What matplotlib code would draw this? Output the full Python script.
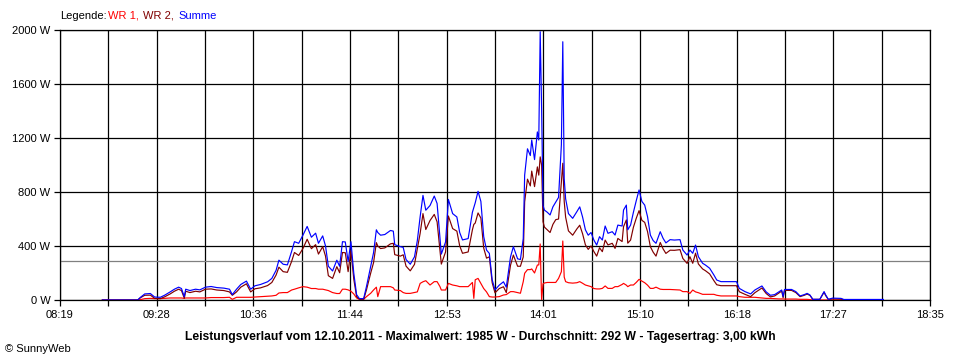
import matplotlib.pyplot as plt
import numpy as np

# Messzeitpunkte (HH:MM) und Leistung in W
zeit = ['08:49', '09:14', '09:16', '09:19', '09:23', '09:26', '09:30', '09:33', '09:37', '09:40',
        '09:43', '09:45', '09:47', '09:48', '09:51', '09:55', '09:58', '10:02', '10:06', '10:10',
        '10:15', '10:19', '10:21', '10:24', '10:27', '10:31', '10:34', '10:37', '10:41', '10:46',
        '10:49', '10:52', '10:54', '10:57', '11:00', '11:03', '11:05', '11:08', '11:11', '11:14',
        '11:17', '11:20', '11:22', '11:25', '11:27', '11:29', '11:32', '11:35', '11:37', '11:39',
        '11:41', '11:43', '11:45', '11:47', '11:49', '11:51', '11:54', '11:56', '11:59', '12:01',
        '12:03', '12:04', '12:06', '12:09', '12:13', '12:15', '12:16', '12:20', '12:22', '12:24',
        '12:27', '12:30', '12:32', '12:34', '12:36', '12:38', '12:41', '12:44', '12:46', '12:48',
        '12:49', '12:52', '12:54', '12:57', '13:00', '13:02', '13:04', '13:08', '13:11', '13:12',
        '13:13', '13:15', '13:17', '13:19', '13:21', '13:23', '13:25', '13:27', '13:30', '13:33',
        '13:35', '13:38', '13:40', '13:43', '13:45', '13:47', '13:48', '13:50', '13:52', '13:53',
        '13:55', '13:57', '13:58', '13:59', '14:00', '14:01', '14:02', '14:04', '14:06', '14:08',
        '14:10', '14:12', '14:14', '14:15', '14:16', '14:17', '14:19', '14:22', '14:25', '14:27',
        '14:29', '14:31', '14:33', '14:35', '14:37', '14:39', '14:41', '14:43', '14:45', '14:47',
        '14:50', '14:52', '14:54', '14:57', '14:58', '15:00', '15:01', '15:03', '15:05', '15:07',
        '15:09', '15:11', '15:13', '15:15', '15:17', '15:19', '15:21', '15:24', '15:26', '15:28',
        '15:31', '15:34', '15:38', '15:40', '15:43', '15:45', '15:47', '15:49', '15:51', '15:54',
        '15:56', '15:59', '16:02', '16:04', '16:07', '16:18', '16:20', '16:24', '16:28', '16:31',
        '16:33', '16:36', '16:39', '16:42', '16:45', '16:48', '16:50', '16:51', '16:52', '16:57',
        '17:00', '17:03', '17:06', '17:08', '17:10', '17:12', '17:17', '17:20', '17:21', '17:23',
        '17:26', '17:32', '17:34', '18:02']

wr1 = [0, 0, 3, 10, 12, 10, 10, 12, 15, 15,
       15, 15, 12, 15, 15, 15, 15, 15, 18, 18,
       18, 20, 5, 20, 20, 20, 20, 22, 25, 28,
       30, 35, 52, 55, 55, 74, 80, 90, 99, 95,
       85, 85, 80, 80, 75, 70, 55, 48, 48, 80,
       80, 75, 65, 45, 15, 5, 5, 25, 50, 74,
       95, 25, 99, 99, 99, 90, 74, 70, 55, 49,
       49, 56, 60, 123, 135, 143, 111, 136, 136, 100,
       74, 74, 123, 111, 105, 99, 99, 99, 130, 12,
       150, 160, 123, 85, 60, 25, 22, 22, 25, 37,
       40, 62, 62, 55, 50, 136, 198, 225, 225, 230,
       200, 259, 260, 415, 0, 120, 126, 130, 130, 130,
       130, 160, 210, 437, 170, 136, 128, 125, 128, 136,
       124, 111, 105, 99, 85, 82, 82, 86, 104, 86,
       86, 99, 99, 115, 123, 110, 99, 111, 111, 130,
       153, 140, 128, 110, 86, 86, 95, 80, 78, 78,
       78, 76, 74, 62, 62, 49, 74, 60, 54, 42,
       42, 42, 42, 35, 30, 30, 25, 20, 20, 20,
       18, 15, 12, 12, 10, 8, 8, 8, 7, 7,
       7, 5, 5, 5, 3, 0, 0, 0, 0, 0,
       0, 0, 0, 0]

wr2 = [0, 0, 17, 35, 36, 12, 10, 23, 45, 65,
       80, 70, 13, 65, 55, 65, 60, 80, 82, 74,
       70, 60, 35, 60, 95, 120, 60, 83, 90, 107,
       130, 185, 243, 210, 205, 286, 352, 330, 381, 450,
       380, 410, 340, 395, 325, 180, 160, 247, 202, 352,
       350, 210, 367, 155, 25, 5, 5, 75, 200, 276,
       425, 400, 381, 386, 416, 420, 336, 325, 335, 251,
       216, 264, 380, 494, 640, 522, 589, 634, 579, 370,
       266, 356, 622, 529, 510, 401, 346, 356, 520, 560,
       570, 645, 607, 385, 310, 320, 128, 53, 85, 98,
       55, 258, 333, 250, 250, 319, 727, 895, 845, 955,
       840, 986, 925, 1060, 1000, 580, 540, 520, 500, 560,
       595, 600, 880, 1013, 730, 614, 512, 480, 527, 554,
       491, 409, 375, 401, 359, 325, 387, 358, 444, 408,
       420, 382, 456, 433, 543, 593, 421, 444, 539, 605,
       662, 590, 575, 507, 395, 354, 325, 426, 379, 345,
       369, 368, 373, 308, 271, 321, 272, 347, 267, 230,
       217, 193, 143, 113, 106, 106, 61, 42, 25, 54,
       68, 89, 48, 23, 30, 52, 66, 17, 71, 71,
       55, 25, 35, 44, 34, 5, 5, 58, 35, 4,
       8, 6, 2, 2]

summe = [0, 0, 20, 45, 48, 22, 20, 35, 60, 80,
         95, 85, 25, 80, 70, 80, 75, 95, 100, 92,
         88, 80, 40, 80, 115, 140, 80, 105, 115, 135,
         160, 220, 295, 265, 260, 360, 432, 420, 480, 545,
         465, 495, 420, 475, 400, 250, 215, 295, 250, 432,
         430, 285, 432, 200, 40, 10, 10, 100, 250, 350,
         520, 500, 480, 485, 515, 510, 410, 395, 390, 300,
         265, 320, 440, 617, 775, 665, 700, 770, 715, 470,
         340, 430, 745, 640, 615, 500, 445, 455, 650, 685,
         720, 805, 730, 470, 370, 345, 150, 75, 110, 135,
         95, 320, 395, 305, 300, 455, 925, 1120, 1070, 1185,
         1040, 1245, 1185, 1987, 1420, 700, 666, 650, 630, 690,
         725, 760, 1150, 1913, 900, 750, 640, 605, 655, 690,
         615, 520, 480, 500, 444, 407, 469, 444, 548, 494,
         506, 481, 555, 548, 666, 703, 520, 555, 650, 735,
         815, 730, 703, 617, 481, 440, 420, 506, 457, 423,
         447, 444, 447, 370, 333, 370, 346, 407, 321, 272,
         259, 235, 185, 148, 136, 136, 86, 62, 45, 74,
         86, 104, 60, 35, 40, 60, 74, 25, 78, 78,
         62, 30, 40, 49, 37, 5, 5, 62, 40, 5,
         14, 12, 4, 4]

y_ticks = [0, 400, 800, 1200, 1600, 2000]
x_labels = ['08:19', '09:28', '10:36', '11:44', '12:53', '14:01', '15:10', '16:18', '17:27', '18:35']

datum = '12.10.2011'
maximalwert = 1985
durchschnitt = 292
tagesertrag = '3,00'


def minuten(s):
    h, m = s.split(':')
    return int(h) * 60 + int(m)


t = [minuten(z) for z in zeit]
t_start = minuten(x_labels[0])
t_end = minuten(x_labels[-1])

plt.rcParams['font.family'] = ['Liberation Sans', 'DejaVu Sans']

fig = plt.figure(figsize=(9.6, 3.6), dpi=100)
ax = fig.add_axes([60 / 960, 60 / 360, 870 / 960, 270 / 360])

ax.axhline(durchschnitt, color='#808080', lw=0.9, zorder=1)
ax.plot(t, wr1, color='#ff0000', lw=0.85, zorder=3)
ax.plot(t, wr2, color='#800000', lw=0.85, zorder=3)
ax.plot(t, summe, color='#0000ff', lw=0.85, zorder=4)

ax.set_xlim(t_start, t_end)
ax.set_ylim(0, 2000)

# 18 Rasterfelder, jede zweite Linie beschriftet
x_pos = np.linspace(t_start, t_end, 2 * len(x_labels) - 1)
x_lab = []
for i in range(len(x_pos)):
    x_lab.append(x_labels[i // 2] if i % 2 == 0 else '')
ax.set_xticks(x_pos)
ax.set_xticklabels(x_lab)
ax.set_yticks(y_ticks)
ax.set_yticklabels(['{} W'.format(v) for v in y_ticks])

ax.grid(True, color='black', lw=0.9, zorder=0)
ax.set_axisbelow(True)
ax.tick_params(length=4, width=0.9, color='black', labelsize=8, pad=3)
for s in ax.spines.values():
    s.set_color('black')
    s.set_linewidth(0.9)

# Legende als Textzeile
fig.text(60 / 960, 1 - 16 / 360, 'Legende:', fontsize=8, va='center')
fig.text(108 / 960, 1 - 16 / 360, 'WR 1,', fontsize=8, va='center', color='#ff0000')
fig.text(143 / 960, 1 - 16 / 360, 'WR 2,', fontsize=8, va='center', color='#800000')
fig.text(178 / 960, 1 - 16 / 360, 'Summe', fontsize=8, va='center', color='#0000ff')

info = 'Leistungsverlauf vom {} - Maximalwert: {} W - Durchschnitt: {} W - Tagesertrag: {} kWh'.format(
    datum, maximalwert, durchschnitt, tagesertrag)
fig.text(0.5, 1 - 337 / 360, info, fontsize=8.7, fontweight='bold', ha='center', va='center')
fig.text(5 / 960, 1 - 349 / 360, '\u00a9 SunnyWeb', fontsize=8, va='center')

fig.savefig('out.png', dpi=100)
